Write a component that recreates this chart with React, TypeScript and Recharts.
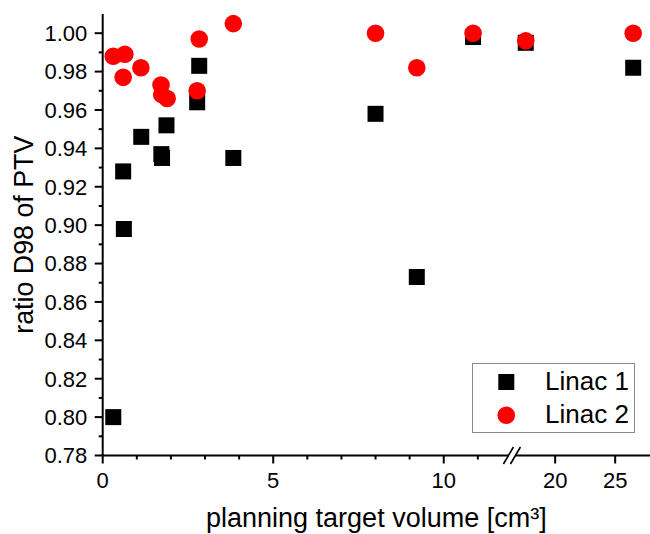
import React from 'react';
import { ScatterChart, Scatter, XAxis, YAxis, Legend } from 'recharts';

// ---- data ----
const seriesNames = ['Linac 1', 'Linac 2'];
const linac1Volume = [0.31, 0.6, 0.62, 1.13, 1.72, 1.74, 1.87, 2.77, 2.83, 3.83, 8.0, 9.21, 10.86, 17.55, 26.5];
const linac1Ratio = [0.8, 0.928, 0.898, 0.946, 0.937, 0.935, 0.952, 0.964, 0.983, 0.935, 0.958, 0.873, 0.998, 0.995, 0.982];
const linac2Volume = [0.31, 0.65, 0.6, 1.12, 1.71, 1.73, 1.89, 2.77, 2.83, 3.83, 8.0, 9.21, 10.86, 17.55, 26.5];
const linac2Ratio = [0.988, 0.989, 0.977, 0.982, 0.973, 0.968, 0.966, 0.97, 0.997, 1.005, 1.0, 0.982, 1.0, 0.996, 1.0];

const xMajorTicks = [0, 5, 10, 20, 25];
const xMinorTicks = [1, 2, 3, 4, 6, 7, 8, 9, 11];
const yMajorTicks = [0.78, 0.8, 0.82, 0.84, 0.86, 0.88, 0.9, 0.92, 0.94, 0.96, 0.98, 1.0];
const yMinorTicks = [0.79, 0.81, 0.83, 0.85, 0.87, 0.89, 0.91, 0.93, 0.95, 0.97, 0.99];

// ---- broken x axis ----
const BREAK_START = 12;
const BREAK_END = 16.4;
const UPPER_SCALE = 0.352;
const X_END = 27.9;
const toDisplay = (v: number) => (v <= BREAK_START ? v : BREAK_START + (v - BREAK_END) * UPPER_SCALE);
const X_DOMAIN: [number, number] = [0, toDisplay(X_END)];
const Y_DOMAIN: [number, number] = [0.78, 1.01];

const FONT = '"Liberation Sans", Arial, sans-serif';
const COLORS = ['#000000', '#ff0000'];

const linac1Data = linac1Volume.map((v, i) => ({ xd: toDisplay(v), y: linac1Ratio[i] }));
const linac2Data = linac2Volume.map((v, i) => ({ xd: toDisplay(v), y: linac2Ratio[i] }));

type TickDef = { d: number; kind: 'major' | 'minor' | 'break'; label: string };
const xTickTable: TickDef[] = [
  ...xMajorTicks.map((v) => ({ d: toDisplay(v), kind: 'major' as const, label: String(v) })),
  ...xMinorTicks.map((v) => ({ d: toDisplay(v), kind: 'minor' as const, label: '' })),
  { d: BREAK_START, kind: 'break' as const, label: '' },
];
const yTickTable: TickDef[] = [
  ...yMajorTicks.map((v) => ({ d: v, kind: 'major' as const, label: v.toFixed(2) })),
  ...yMinorTicks.map((v) => ({ d: v, kind: 'minor' as const, label: '' })),
];
const findTick = (table: TickDef[], value: number) =>
  table.find((t) => Math.abs(t.d - value) < 1e-6);

const BreakMark = ({ x, y }: { x: number; y: number }) => {
  const h = 8.5;
  const w = 5;
  const gap = 3.5;
  const s1 = x - gap;
  const s2 = x + gap;
  return (
    <g>
      <rect x={s1} y={y - 2} width={s2 - s1} height={4} fill="#fff" />
      <line x1={s1 - w} y1={y + h} x2={s1 + w} y2={y - h} stroke="#000" strokeWidth={1.6} />
      <line x1={s2 - w} y1={y + h} x2={s2 + w} y2={y - h} stroke="#000" strokeWidth={1.6} />
    </g>
  );
};

const BottomTick = (props: any) => {
  const { x, y, payload } = props;
  const t = findTick(xTickTable, payload.value);
  if (!t) return null;
  if (t.kind === 'break') return <BreakMark x={x} y={y} />;
  const len = t.kind === 'major' ? 8 : 4;
  return (
    <g>
      <line x1={x} x2={x} y1={y} y2={y + len} stroke="#000" strokeWidth={2} />
      {t.kind === 'major' && (
        <text x={x} y={y + 32} textAnchor="middle" fontSize={22} fontFamily={FONT} fill="#000">
          {t.label}
        </text>
      )}
    </g>
  );
};

const TopTick = (props: any) => {
  const { x, y, payload } = props;
  const t = findTick(xTickTable, payload.value);
  if (!t) return null;
  if (t.kind === 'break') return <BreakMark x={x} y={y} />;
  const len = t.kind === 'major' ? 8 : 4;
  return <line x1={x} x2={x} y1={y} y2={y + len} stroke="#000" strokeWidth={2} />;
};

const LeftTick = (props: any) => {
  const { x, y, payload } = props;
  const t = findTick(yTickTable, payload.value);
  if (!t) return null;
  const len = t.kind === 'major' ? 8 : 4;
  return (
    <g>
      <line x1={x - len} x2={x} y1={y} y2={y} stroke="#000" strokeWidth={2} />
      {t.kind === 'major' && (
        <text x={x - 15.4} y={y + 7.8} textAnchor="end" fontSize={22} fontFamily={FONT} fill="#000">
          {t.label}
        </text>
      )}
    </g>
  );
};

const RightTick = (props: any) => {
  const { x, y, payload } = props;
  const t = findTick(yTickTable, payload.value);
  if (!t) return null;
  const len = t.kind === 'major' ? 8 : 4;
  return <line x1={x - len} x2={x} y1={y} y2={y} stroke="#000" strokeWidth={2} />;
};

const SquareShape = (props: any) => {
  const { cx, cy } = props;
  return <rect x={cx - 8} y={cy - 8} width={16} height={16} fill={COLORS[0]} />;
};
const CircleShape = (props: any) => {
  const { cx, cy } = props;
  return <circle cx={cx} cy={cy} r={8.8} fill={COLORS[1]} />;
};

const LegendContent = () => (
  <svg width={163} height={70} style={{ display: 'block' }}>
    <rect x={0.5} y={0.5} width={162} height={69} fill="#fff" stroke="#8a8a8a" strokeWidth={1} />
    <rect x={34.3 - 8} y={19 - 8} width={16} height={16} fill={COLORS[0]} />
    <circle cx={34.3} cy={52.3} r={8.8} fill={COLORS[1]} />
    <text x={73} y={27} fontSize={26} fontFamily={FONT} fill="#000">
      {seriesNames[0]}
    </text>
    <text x={73} y={60} fontSize={26} fontFamily={FONT} fill="#000">
      {seriesNames[1]}
    </text>
  </svg>
);

export default function App() {
  return (
    <div style={{ position: 'absolute', left: 0, top: 0, width: 650, height: 534, background: '#fff' }}>
      <ScatterChart width={650} height={534} margin={{ top: 14, right: 0, bottom: 0, left: 0 }}>
        <XAxis
          xAxisId="bottom"
          dataKey="xd"
          type="number"
          domain={X_DOMAIN}
          allowDataOverflow
          ticks={xTickTable.map((t) => t.d)}
          interval={0}
          tickSize={0}
          tickMargin={0}
          tickLine={false}
          tick={BottomTick}
          axisLine={{ stroke: '#000', strokeWidth: 2 }}
          height={78.5}
          label={{
            value: 'planning target volume [cm³]',
            position: 'insideBottom',
            offset: 7,
            style: { fontSize: 27, fontFamily: FONT, fill: '#000' },
          }}
        />
        <XAxis
          xAxisId="top"
          orientation="top"
          dataKey="xd"
          type="number"
          domain={X_DOMAIN}
          allowDataOverflow
          ticks={xTickTable.map((t) => t.d)}
          interval={0}
          tickSize={0}
          tickMargin={0}
          tickLine={false}
          tick={TopTick}
          axisLine={{ stroke: '#000', strokeWidth: 2 }}
          height={0}
        />
        <YAxis
          yAxisId="left"
          dataKey="y"
          type="number"
          domain={Y_DOMAIN}
          allowDataOverflow
          ticks={yTickTable.map((t) => t.d)}
          interval={0}
          tickSize={0}
          tickMargin={0}
          tickLine={false}
          tick={LeftTick}
          axisLine={{ stroke: '#000', strokeWidth: 2 }}
          width={102.7}
          label={{
            value: 'ratio D98 of PTV',
            angle: -90,
            position: 'insideLeft',
            offset: 23,
            style: { fontSize: 26.8, fontFamily: FONT, fill: '#000', textAnchor: 'middle' },
          }}
        />
        <YAxis
          yAxisId="right"
          orientation="right"
          dataKey="y"
          type="number"
          domain={Y_DOMAIN}
          allowDataOverflow
          ticks={yTickTable.map((t) => t.d)}
          interval={0}
          tickSize={0}
          tickMargin={0}
          tickLine={false}
          tick={RightTick}
          axisLine={{ stroke: '#000', strokeWidth: 2 }}
          width={0}
        />
        <Scatter
          name={seriesNames[0]}
          data={linac1Data}
          xAxisId="bottom"
          yAxisId="left"
          fill={COLORS[0]}
          shape={SquareShape}
          isAnimationActive={false}
        />
        <Scatter
          name={seriesNames[1]}
          data={linac2Data}
          xAxisId="bottom"
          yAxisId="left"
          fill={COLORS[1]}
          shape={CircleShape}
          isAnimationActive={false}
        />
        <Legend
          layout="vertical"
          align="center"
          verticalAlign="middle"
          content={LegendContent}
          wrapperStyle={{ left: 471.7, top: 362.7, width: 163, height: 70 }}
        />
      </ScatterChart>
    </div>
  );
}
